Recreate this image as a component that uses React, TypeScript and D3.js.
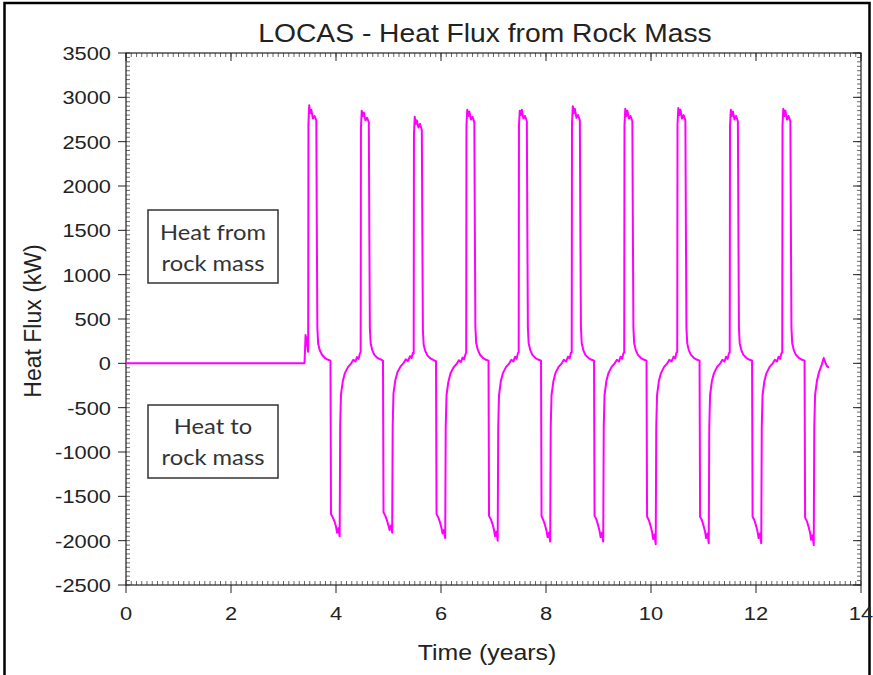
import React from "react";
import * as d3 from "d3";

type P = [number, number];

const xTicks = [0, 2, 4, 6, 8, 10, 12, 14];
const yTicks = [-2500, -2000, -1500, -1000, -500, 0, 500, 1000, 1500, 2000, 2500, 3000, 3500];

const baseline: P[] = [[0, 0], [3.40, 0], [3.41, 150], [3.42, 320], [3.43, 200], [3.445, 290], [3.46, 160]];

const cycle1: P[] = [[3.47,130],[3.475,2700],[3.49,2910],[3.51,2820],[3.53,2860],[3.56,2760],[3.59,2790],[3.625,2740],[3.635,1500],[3.645,400],[3.66,220],[3.69,150],[3.73,100],[3.79,60],[3.85,40],[3.895,30],[3.905,-1700],[3.94,-1740],[3.97,-1780],[4.00,-1840],[4.02,-1910],[4.045,-1860],[4.07,-1950],[4.08,-700],[4.095,-350],[4.13,-200],[4.17,-110],[4.23,-40],[4.29,0],[4.33,40],[4.37,20],[4.40,70],[4.43,50],[4.455,110]];
const cycle2: P[] = [[4.47,130],[4.475,2650],[4.49,2850],[4.51,2790],[4.53,2830],[4.56,2740],[4.59,2770],[4.625,2720],[4.635,1500],[4.645,400],[4.66,230],[4.69,150],[4.73,95],[4.79,60],[4.85,45],[4.895,30],[4.905,-1680],[4.94,-1720],[4.97,-1770],[5.00,-1830],[5.02,-1880],[5.045,-1830],[5.07,-1910],[5.08,-700],[5.095,-340],[5.13,-190],[5.17,-100],[5.23,-35],[5.29,5],[5.33,45],[5.37,25],[5.41,80],[5.44,60],[5.465,120]];
const cycle3: P[] = [[5.48,110],[5.485,2580],[5.50,2780],[5.52,2700],[5.54,2740],[5.57,2660],[5.60,2700],[5.635,2630],[5.645,1450],[5.655,380],[5.67,210],[5.70,140],[5.74,90],[5.80,55],[5.86,35],[5.905,25],[5.915,-1700],[5.95,-1740],[5.98,-1790],[6.01,-1860],[6.03,-1920],[6.055,-1880],[6.08,-1970],[6.09,-720],[6.105,-360],[6.14,-210],[6.18,-115],[6.24,-45],[6.30,-5],[6.34,35],[6.38,15],[6.41,65],[6.44,45],[6.465,100]];
const cycle4: P[] = [[6.48,120],[6.485,2680],[6.50,2860],[6.52,2790],[6.54,2840],[6.57,2750],[6.60,2780],[6.635,2720],[6.645,1500],[6.655,410],[6.67,230],[6.70,155],[6.74,100],[6.80,60],[6.86,40],[6.905,30],[6.915,-1720],[6.95,-1760],[6.98,-1810],[7.01,-1880],[7.03,-1950],[7.055,-1900],[7.08,-2000],[7.09,-720],[7.105,-360],[7.14,-200],[7.18,-110],[7.24,-40],[7.30,0],[7.34,40],[7.38,20],[7.41,75],[7.44,50],[7.465,115]];
const cycle5: P[] = [[7.48,125],[7.485,2670],[7.50,2850],[7.52,2800],[7.54,2860],[7.57,2760],[7.60,2790],[7.635,2730],[7.645,1500],[7.655,400],[7.67,225],[7.70,150],[7.74,95],[7.80,60],[7.86,40],[7.905,30],[7.915,-1720],[7.95,-1770],[7.98,-1820],[8.01,-1890],[8.03,-1960],[8.055,-1910],[8.08,-2010],[8.09,-720],[8.105,-360],[8.14,-205],[8.18,-110],[8.24,-40],[8.30,0],[8.34,40],[8.38,20],[8.42,75],[8.45,55],[8.475,120]];
const cycle6: P[] = [[8.49,125],[8.495,2700],[8.51,2900],[8.53,2820],[8.55,2870],[8.58,2770],[8.61,2800],[8.645,2740],[8.655,1500],[8.665,410],[8.68,230],[8.71,150],[8.75,95],[8.81,60],[8.87,40],[8.915,30],[8.925,-1720],[8.96,-1760],[8.99,-1820],[9.02,-1890],[9.04,-1960],[9.065,-1910],[9.09,-2010],[9.10,-720],[9.115,-360],[9.15,-200],[9.19,-110],[9.25,-40],[9.31,0],[9.35,40],[9.39,20],[9.42,75],[9.45,50],[9.475,115]];
const cycle7: P[] = [[9.49,120],[9.495,2680],[9.51,2870],[9.53,2790],[9.55,2850],[9.58,2760],[9.61,2790],[9.645,2730],[9.655,1500],[9.665,400],[9.68,225],[9.71,150],[9.75,95],[9.81,60],[9.87,40],[9.915,30],[9.925,-1730],[9.96,-1770],[9.99,-1830],[10.02,-1900],[10.04,-1980],[10.065,-1930],[10.09,-2040],[10.10,-730],[10.115,-360],[10.15,-200],[10.19,-110],[10.25,-40],[10.31,0],[10.35,40],[10.39,20],[10.43,75],[10.46,55],[10.485,120]];
const cycle8: P[] = [[10.50,125],[10.505,2690],[10.52,2880],[10.54,2800],[10.56,2860],[10.59,2760],[10.62,2800],[10.655,2740],[10.665,1500],[10.675,400],[10.69,225],[10.72,150],[10.76,95],[10.82,60],[10.88,40],[10.925,30],[10.935,-1730],[10.97,-1770],[11.00,-1830],[11.03,-1900],[11.05,-1970],[11.075,-1920],[11.10,-2030],[11.11,-720],[11.125,-360],[11.16,-200],[11.20,-110],[11.26,-40],[11.32,0],[11.36,40],[11.40,20],[11.43,75],[11.46,50],[11.485,115]];
const cycle9: P[] = [[11.50,120],[11.505,2670],[11.52,2860],[11.54,2790],[11.56,2840],[11.59,2750],[11.62,2790],[11.655,2730],[11.665,1500],[11.675,400],[11.69,225],[11.72,150],[11.76,95],[11.82,60],[11.88,40],[11.925,30],[11.935,-1730],[11.97,-1770],[12.00,-1830],[12.03,-1900],[12.05,-1970],[12.075,-1920],[12.10,-2030],[12.11,-720],[12.125,-360],[12.16,-200],[12.20,-110],[12.26,-40],[12.32,0],[12.36,40],[12.40,20],[12.43,75],[12.46,50],[12.485,115]];
const cycle10: P[] = [[12.50,120],[12.505,2680],[12.52,2870],[12.54,2790],[12.56,2850],[12.59,2750],[12.62,2790],[12.655,2730],[12.665,1500],[12.675,400],[12.69,225],[12.72,150],[12.76,95],[12.82,60],[12.88,40],[12.925,30],[12.935,-1740],[12.97,-1780],[13.00,-1840],[13.03,-1910],[13.05,-1990],[13.075,-1940],[13.10,-2050],[13.11,-730],[13.125,-360],[13.16,-200],[13.20,-100],[13.25,-20],[13.29,60],[13.32,10],[13.35,-30],[13.39,-50]];

const series: P[] = [
  ...baseline, ...cycle1, ...cycle2, ...cycle3, ...cycle4, ...cycle5,
  ...cycle6, ...cycle7, ...cycle8, ...cycle9, ...cycle10,
];

const W = 873, H = 675;
const L = 126, R = 861, T = 53, B = 585;
const SX = 1.13;

function SText(props: { x: number; y: number; size: number; anchor?: string; family: string; sx?: number; fill?: string; children: React.ReactNode }) {
  const { x, y, size, anchor = "middle", family, sx = SX, fill = "#222", children } = props;
  return (
    <text transform={`translate(${x},${y}) scale(${sx},1)`} textAnchor={anchor as any} fontFamily={family} fontSize={size} fill={fill}>
      {children}
    </text>
  );
}

export default function App() {
  const x = d3.scaleLinear().domain([0, 14]).range([L, R]);
  const y = d3.scaleLinear().domain([-2500, 3500]).range([B, T]);
  const line = d3.line<P>().x(d => x(d[0])).y(d => y(d[1]));
  const xMinor = d3.range(0, 140.5, 1).map(i => i / 10);
  const yMinor = d3.range(-2500, 3501, 50);
  const font = "'Liberation Sans', Arial, sans-serif";
  const boxFont = "Lato, 'Open Sans', sans-serif";

  return (
    <svg width={W} height={H} style={{ position: "absolute", left: 0, top: 0, background: "#fff" }}>
      <rect x={0} y={0} width={W} height={H} fill="#fff" />
      <rect x={4.5} y={3} width={865} height={700} fill="none" stroke="#000" strokeWidth={2.5} />
      <SText x={485} y={42} size={25} family={font}>LOCAS - Heat Flux from Rock Mass</SText>
      <g stroke="#444" strokeWidth={0.8}>
        {xMinor.map((v, i) => (
          <g key={"xm" + i}>
            <line x1={x(v)} x2={x(v)} y1={B} y2={B - 4} />
            <line x1={x(v)} x2={x(v)} y1={T} y2={T + 4} />
          </g>
        ))}
        {yMinor.map((v, i) => (
          <g key={"ym" + i}>
            <line x1={L} x2={L + 4} y1={y(v)} y2={y(v)} />
            <line x1={R} x2={R - 4} y1={y(v)} y2={y(v)} />
          </g>
        ))}
      </g>
      <g stroke="#222" strokeWidth={1}>
        {xTicks.map(v => (
          <g key={"xM" + v}>
            <line x1={x(v)} x2={x(v)} y1={B} y2={B + 8} />
            <line x1={x(v)} x2={x(v)} y1={T} y2={T + 8} />
          </g>
        ))}
        {yTicks.map(v => (
          <g key={"yM" + v}>
            <line x1={L - 8} x2={L} y1={y(v)} y2={y(v)} />
            <line x1={R - 8} x2={R} y1={y(v)} y2={y(v)} />
          </g>
        ))}
      </g>
      <rect x={L} y={T} width={R - L} height={B - T} fill="none" stroke="#222" strokeWidth={1.2} />
      <path d={line(series) || ""} fill="none" stroke="#f0f" strokeWidth={2} strokeLinejoin="round" />
      {xTicks.map(v => (
        <SText key={"xl" + v} x={x(v)} y={620} size={19} sx={1.15} family={font}>{v}</SText>
      ))}
      {yTicks.map(v => (
        <SText key={"yl" + v} x={111} y={y(v) + 7} size={19} sx={1.15} anchor="end" family={font}>{v}</SText>
      ))}
      <SText x={487} y={660} size={22} family={font}>Time (years)</SText>
      <text transform={`translate(41,321) rotate(-90)`} textAnchor="middle" fontFamily={font} fontSize={23} fill="#222">
        Heat Flux (kW)
      </text>
      <g>
        <rect x={148} y={210} width={130} height={73} fill="#fff" stroke="#333" strokeWidth={1.5} />
        <SText x={213} y={240} size={21} family={boxFont} fill="#333">Heat from</SText>
        <SText x={213} y={271} size={21} family={boxFont} fill="#333">rock mass</SText>
        <rect x={148} y={405} width={130} height={73} fill="#fff" stroke="#333" strokeWidth={1.5} />
        <SText x={213} y={434} size={21} family={boxFont} fill="#333">Heat to</SText>
        <SText x={213} y={465} size={21} family={boxFont} fill="#333">rock mass</SText>
      </g>
    </svg>
  );
}
